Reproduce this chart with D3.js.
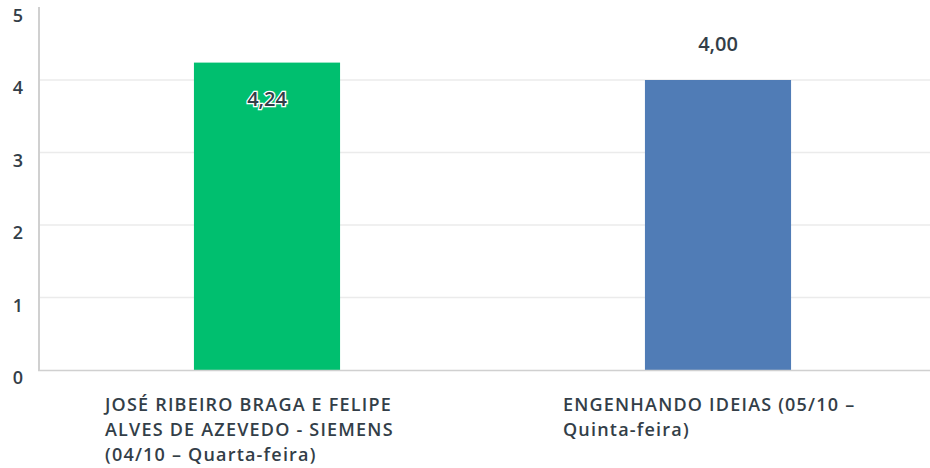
<!DOCTYPE html>
<html>
<head>
<meta charset="utf-8">
<script src="https://cdn.jsdelivr.net/npm/d3@7"></script>
<style>
body{margin:0;background:#fff;}
text{font-family:"Open Sans","Noto Sans",sans-serif;fill:#333e48;}
</style>
</head>
<body>
<script>
var categories = [
	["JOSÉ RIBEIRO BRAGA E FELIPE", "ALVES DE AZEVEDO - SIEMENS", "(04/10 – Quarta-feira)"],
	["ENGENHANDO IDEIAS (05/10 –", "Quinta-feira)"]
];
var values = [4.24, 4.00];
var valueLabels = ["4,24", "4,00"];
var barColors = ["#00bf6f", "#507cb6"];
var yTicks = [0, 1, 2, 3, 4, 5];

var width = 930, height = 468;
var svg = d3.select("body").append("svg")
	.attr("width", width)
	.attr("height", height);

var x = d3.scaleBand()
	.domain(d3.range(values.length))
	.range([41.5, 943.5])
	.paddingInner(0.676)
	.paddingOuter(0.338);

var y = d3.scaleLinear().domain([0, 5]).range([370, 7.5]);

// gridlines
svg.selectAll(".grid").data(yTicks.slice(1, 5)).enter().append("line")
	.attr("x1", 40).attr("x2", width)
	.attr("y1", function (d) {return y(d);})
	.attr("y2", function (d) {return y(d);})
	.attr("stroke", "#ebebeb").attr("stroke-width", 1.5);

// tick labels
svg.selectAll(".tick").data(yTicks).enter().append("text")
	.attr("x", 18)
	.attr("y", function (d) {return y(d) + 8;})
	.attr("dy", "0.35em")
	.attr("text-anchor", "middle")
	.style("font-size", "18px")
	.style("font-weight", 600)
	.text(function (d) {return d;});

// bars
svg.selectAll(".bar").data(values).enter().append("rect")
	.attr("x", function (d, i) {return x(i);})
	.attr("width", x.bandwidth())
	.attr("y", function (d) {return y(d);})
	.attr("height", function (d) {return y(0) - y(d);})
	.attr("fill", function (d, i) {return barColors[i];});

// axes lines
svg.append("line").attr("x1", 39).attr("x2", 39).attr("y1", 7).attr("y2", 371)
	.attr("stroke", "#d0d0d0").attr("stroke-width", 2);
svg.append("line").attr("x1", 38).attr("x2", width).attr("y1", 370.5).attr("y2", 370.5)
	.attr("stroke", "#d0d0d0").attr("stroke-width", 1.5);

// value labels
svg.selectAll(".val").data(values).enter().append("text")
	.attr("x", function (d, i) {return x(i) + x.bandwidth() / 2;})
	.attr("y", function (d, i) {return i == 0 ? y(d) + 36 : y(d) - 36;})
	.attr("dy", "0.35em")
	.attr("text-anchor", "middle")
	.style("font-size", "20px")
	.style("font-weight", 600)
	.style("paint-order", "stroke")
	.style("stroke", function (d, i) {return i == 0 ? "#fff" : "none";})
	.style("stroke-width", 2.5)
	.text(function (d, i) {return valueLabels[i];});

// category labels
var offsets = [63.5, 70.5];
categories.forEach(function (lines, i) {
	var lx = x(i) - x.paddingOuter() * x.step() + offsets[i];
	var t = svg.append("text")
		.attr("x", lx)
		.attr("y", 411)
		.style("font-size", "18px")
		.style("font-weight", 600)
		.style("letter-spacing", "1.2px");
	lines.forEach(function (l, j) {
		t.append("tspan").attr("x", lx)
			.attr("y", 411 + j * 25).text(l);
	});
});
</script>
</body>
</html>
